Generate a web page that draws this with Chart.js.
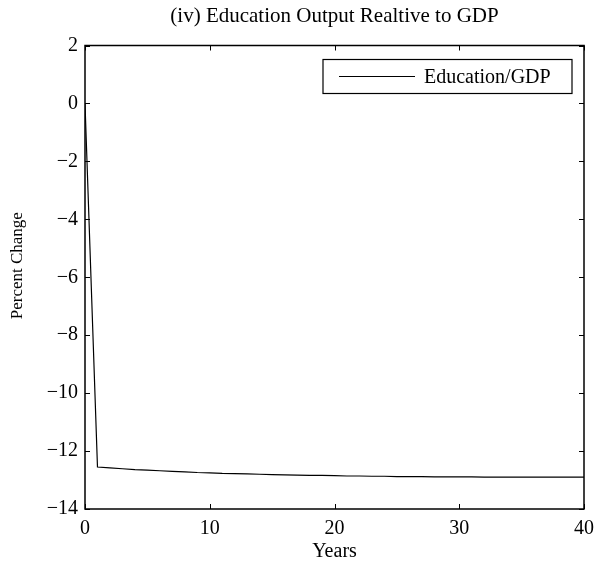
<!DOCTYPE html>
<html>
<head>
<meta charset="utf-8">
<script src="https://cdn.jsdelivr.net/npm/chart.js@4.4.0/dist/chart.umd.min.js"></script>
<style>
  html, body { margin: 0; padding: 0; background: #fff; }
  #wrap { width: 599px; height: 564px; }
</style>
</head>
<body>
<div id="wrap"><canvas id="eduChart" width="599" height="564"></canvas></div>
<script>
const years = [];
for (let y = 0; y <= 40; y++) years.push(y);

const eduGdp = [
    0, -12.55, -12.58, -12.61, -12.64, -12.66, -12.68, -12.70, -12.72, -12.74,
    -12.75, -12.77, -12.78, -12.79, -12.80, -12.81, -12.82, -12.83, -12.84, -12.84,
    -12.85, -12.86, -12.86, -12.87, -12.87, -12.88, -12.88, -12.88, -12.89, -12.89,
    -12.89, -12.89, -12.90, -12.90, -12.90, -12.90, -12.90, -12.90, -12.90, -12.90,
    -12.90
];

const xTicks = [0, 10, 20, 30, 40];
const yTicks = [2, 0, -2, -4, -6, -8, -10, -12, -14];

const serif = '"Liberation Serif", "DejaVu Serif", serif';
const yLabel = 'Percent Change';

// box round the plot, inward ticks on every side, legend in the corner
const matlabAxes = {
    id: 'matlabAxes',
    afterDatasetsDraw(chart) {
        const ctx = chart.ctx;
        const a = chart.chartArea;
        const xs = chart.scales.x;
        const ys = chart.scales.y;
        const tl = 5;
        ctx.save();
        ctx.strokeStyle = '#000';
        ctx.lineWidth = 1;
        ctx.beginPath();
        xTicks.forEach(v => {
            const px = Math.round(xs.getPixelForValue(v)) + 0.5;
            ctx.moveTo(px, a.bottom); ctx.lineTo(px, a.bottom - tl);
            ctx.moveTo(px, a.top); ctx.lineTo(px, a.top + tl);
        });
        yTicks.forEach(v => {
            const py = Math.round(ys.getPixelForValue(v)) + 0.5;
            ctx.moveTo(a.left, py); ctx.lineTo(a.left + tl, py);
            ctx.moveTo(a.right, py); ctx.lineTo(a.right - tl, py);
        });
        ctx.stroke();
        ctx.lineWidth = 1.5;
        ctx.strokeRect(a.left, a.top, a.right - a.left, a.bottom - a.top);

        // legend
        const lx = a.right - 261, ly = a.top + 14, lw = 249, lh = 34;
        ctx.fillStyle = '#fff';
        ctx.fillRect(lx, ly, lw, lh);
        ctx.lineWidth = 1.2;
        ctx.strokeRect(lx, ly, lw, lh);
        ctx.lineWidth = 1;
        ctx.beginPath();
        ctx.moveTo(lx + 16, ly + lh / 2);
        ctx.lineTo(lx + 92, ly + lh / 2);
        ctx.stroke();
        ctx.fillStyle = '#000';
        ctx.font = '20px ' + serif;
        ctx.textBaseline = 'middle';
        ctx.textAlign = 'left';
        ctx.fillText(chart.data.datasets[0].label, lx + 101, ly + lh / 2 + 1);

        // y label sits a bit above the axis middle in the original
        ctx.translate(18, ys.getPixelForValue(-5.6));
        ctx.rotate(-Math.PI / 2);
        ctx.textAlign = 'center';
        ctx.font = '17px ' + serif;
        ctx.fillText(yLabel, 0, 0);
        ctx.restore();
    }
};

new Chart(document.getElementById('eduChart'), {
    type: 'line',
    data: {
        labels: years,
        datasets: [{
            label: 'Education/GDP',
            data: eduGdp,
            borderColor: '#000',
            borderWidth: 1.2,
            pointRadius: 0,
            tension: 0,
            fill: false
        }]
    },
    options: {
        responsive: false,
        animation: false,
        devicePixelRatio: 1,
        layout: { padding: { left: 0, right: 15, top: 0, bottom: 0 } },
        plugins: {
            legend: { display: false },
            tooltip: { enabled: false },
            title: {
                display: true,
                text: '(iv) Education Output Realtive to GDP',
                color: '#000',
                fullSize: false,
                font: { family: serif, size: 21, weight: 'normal', lineHeight: 1.2 },
                padding: { top: 4, bottom: 16.3 }
            }
        },
        scales: {
            x: {
                type: 'linear',
                min: 0,
                max: 40,
                afterFit: s => { s.height = 55; s.paddingLeft = 0; s.paddingRight = 0; },
                afterBuildTicks: s => { s.ticks = xTicks.map(v => ({ value: v })); },
                grid: { display: false, drawTicks: false },
                border: { display: false },
                ticks: { color: '#000', padding: 8, maxRotation: 0, font: { family: serif, size: 20 } },
                title: {
                    display: true,
                    text: 'Years',
                    color: '#000',
                    padding: { top: 0, bottom: 0 },
                    font: { family: serif, size: 20 }
                }
            },
            y: {
                min: -14,
                max: 2,
                afterFit: s => { s.width = 85; s.paddingTop = 0; s.paddingBottom = 0; },
                afterBuildTicks: s => { s.ticks = yTicks.map(v => ({ value: v })); },
                grid: { display: false, drawTicks: false },
                border: { display: false },
                ticks: {
                    color: '#000',
                    padding: 7,
                    font: { family: serif, size: 20 },
                    callback: v => String(v).replace('-', '\u2212')
                },
                title: { display: false }
            }
        }
    },
    plugins: [matlabAxes]
});
</script>
</body>
</html>
